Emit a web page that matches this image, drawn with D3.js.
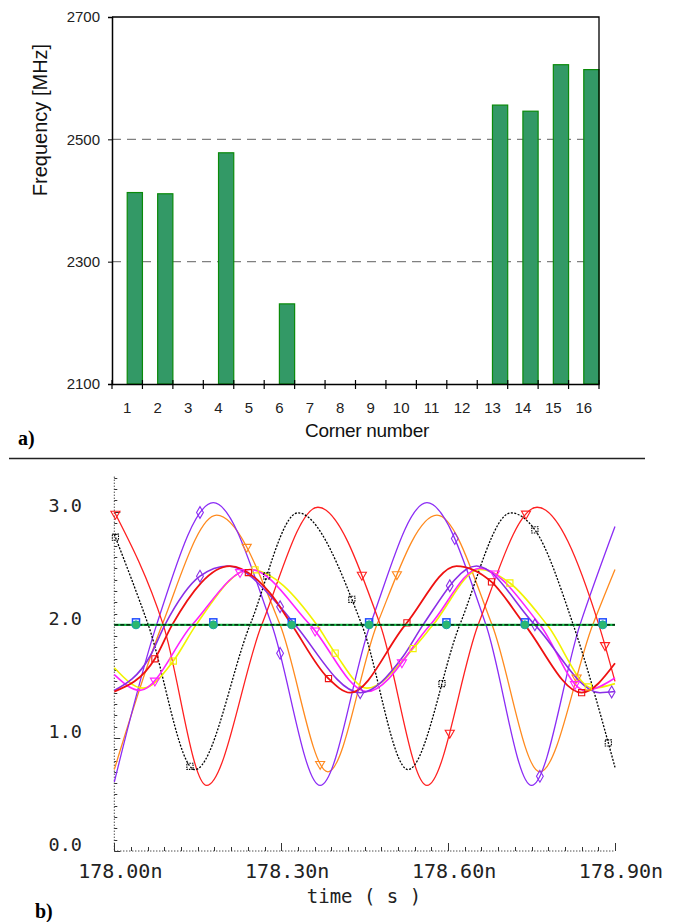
<!DOCTYPE html>
<html>
<head>
<meta charset="utf-8">
<script src="https://cdn.jsdelivr.net/npm/d3@7"></script>
<style>
  body { margin: 0; background: #fff; }
  svg { display: block; }
</style>
</head>
<body>
<div id="chart"></div>
<script>
// ---- a) oscillation frequency per process corner
var corners = ['1', '2', '3', '4', '5', '6', '7', '8', '9', '10', '11', '12', '13', '14', '15', '16'];
var freqMHz = [2413, 2411, null, 2478, null, 2231, null, null, null, null, null, null, 2556, 2546, 2622, 2614];
var freqTicks = [2100, 2300, 2500, 2700];
var freqGrid = [2300, 2500];

// ---- b) transient waveforms, [time ns, volts]
var timeTicks = [178.00, 178.30, 178.60, 178.90];
var voltTicks = [0, 1, 2, 3];

var blackWave = [[178.000, 2.80], [178.061, 2.00], [178.145, 0.72], [178.244, 2.00], [178.330, 2.99],
  [178.445, 2.00], [178.528, 0.72], [178.621, 2.00], [178.713, 2.99], [178.756, 2.84], [178.825, 2.00], [178.900, 0.74]];
var redWave = [[178.000, 3.00], [178.088, 2.00], [178.166, 0.58], [178.265, 2.00], [178.366, 3.04],
  [178.478, 2.00], [178.562, 0.58], [178.654, 2.00], [178.760, 3.04], [178.871, 2.00], [178.900, 1.50]];
var violetWave = [[178.000, 0.61], [178.076, 2.00], [178.178, 3.08], [178.283, 2.00], [178.370, 0.58],
  [178.460, 2.00], [178.562, 3.08], [178.668, 2.00], [178.750, 0.58], [178.837, 2.00], [178.900, 2.87]];
var orangeWave = [[178.000, 0.72], [178.086, 2.00], [178.184, 2.97], [178.298, 2.00], [178.384, 0.70],
  [178.472, 2.00], [178.580, 2.97], [178.679, 2.00], [178.765, 0.70], [178.860, 2.00], [178.900, 2.49]];
var redMidWave = [[178.000, 1.41], [178.073, 1.70], [178.104, 2.00], [178.208, 2.52], [178.280, 2.28],
  [178.319, 2.00], [178.384, 1.53], [178.424, 1.40], [178.523, 2.00], [178.615, 2.52], [178.678, 2.38],
  [178.738, 2.00], [178.840, 1.40], [178.900, 1.66]];
var violetMidWave = [[178.000, 1.42], [178.064, 1.72], [178.091, 2.00], [178.154, 2.43], [178.204, 2.52],
  [178.298, 2.16], [178.325, 2.00], [178.442, 1.40], [178.519, 1.72], [178.555, 2.00], [178.651, 2.52],
  [178.756, 2.00], [178.873, 1.40], [178.900, 1.41]];
var magentaWave = [[178.000, 1.56], [178.046, 1.42], [178.140, 2.00], [178.244, 2.49], [178.352, 2.00],
  [178.454, 1.41], [178.568, 2.00], [178.657, 2.50], [178.765, 2.00], [178.846, 1.42], [178.900, 1.53]];
var yellowWave = [[178.000, 1.62], [178.052, 1.44], [178.106, 1.68], [178.147, 2.00], [178.244, 2.49],
  [178.364, 2.00], [178.397, 1.75], [178.454, 1.44], [178.537, 1.79], [178.573, 2.00], [178.657, 2.49],
  [178.711, 2.37], [178.778, 2.00], [178.860, 1.44], [178.900, 1.48]];
var refLevel = [[178.000, 2.00], [178.900, 2.00]];
var refMarkers = [178.039, 178.178, 178.319, 178.458, 178.597, 178.738, 178.878];

// marker times along each trace (ns)
var blackMarks = [178.002, 178.136, 178.274, 178.427, 178.589, 178.756, 178.888];
var redMarks = [178.002, 178.445, 178.603, 178.740, 178.882];
var violetMarks = [178.154, 178.298, 178.612, 178.765];
var orangeMarks = [178.238, 178.370, 178.508, 178.831];
var redMidMarks = [178.073, 178.241, 178.385, 178.526, 178.678, 178.840];
var yellowMarks = [178.106, 178.253, 178.397, 178.537, 178.711, 178.852];
var magentaMarks = [178.073, 178.226, 178.361, 178.517, 178.684, 178.828];
var violetMidMarks = [178.154, 178.298, 178.442, 178.603, 178.756, 178.894];

var svg = d3.select('#chart')
  .append('svg')
    .attr('width', 680)
    .attr('height', 922);

// ================= a) bar chart =================
var boxA = { left: 112, right: 599, top: 17, bottom: 384 };

var x_bar = d3.scaleBand()
    .domain(corners)
    .range([boxA.left, boxA.right])
    .padding(0);

var y_bar = d3.scaleLinear()
    .domain([2100, 2700])
    .range([boxA.bottom, boxA.top]);

var chartA = svg.append('g')
    .attr('font-family', '"Liberation Sans", Arial, sans-serif');

// dashed grid
chartA.append('g')
  .selectAll('line')
  .data(freqGrid)
  .enter().append('line')
    .attr('x1', boxA.left)
    .attr('x2', boxA.right)
    .attr('y1', function(d) { return y_bar(d); })
    .attr('y2', function(d) { return y_bar(d); })
    .attr('stroke', '#808080')
    .attr('stroke-width', 1.3)
    .attr('stroke-dasharray', '9,6');

// bars sit in the right half of each corner slot
var bw = x_bar.bandwidth();
chartA.append('g')
  .selectAll('rect')
  .data(corners.filter(function(c, i) { return freqMHz[i] != null; }))
  .enter().append('rect')
    .attr('x', function(d) { return x_bar(d) + bw * 0.5; })
    .attr('width', bw * 0.5)
    .attr('y', function(d) { return y_bar(freqMHz[corners.indexOf(d)]); })
    .attr('height', function(d) { return y_bar(2100) - y_bar(freqMHz[corners.indexOf(d)]); })
    .attr('fill', '#339966')
    .attr('stroke', '#0a8a0a')
    .attr('stroke-width', 1.2);

// frame: top + right
chartA.append('path')
    .attr('d', 'M' + boxA.left + ',' + boxA.top + 'H' + boxA.right + 'V' + boxA.bottom)
    .attr('fill', 'none')
    .attr('stroke', '#000')
    .attr('stroke-width', 1.3);

// y axis
var yAxisA = chartA.append('g')
    .attr('transform', 'translate(' + boxA.left + ',0)')
    .call(d3.axisLeft(y_bar).tickValues(freqTicks).tickSize(4).tickPadding(8).tickFormat(d3.format('d')));
yAxisA.select('.domain').attr('stroke-width', 1.5);
yAxisA.selectAll('text')
    .attr('font-size', 15)
    .attr('font-family', '"Liberation Sans", Arial, sans-serif')
    .attr('fill', '#222');

// x axis: labels centred in slots, ticks on slot edges
var xAxisA = chartA.append('g')
    .attr('transform', 'translate(0,' + boxA.bottom + ')')
    .call(d3.axisBottom(x_bar).tickSize(0).tickPadding(18));
xAxisA.select('.domain').attr('stroke-width', 1.7);
xAxisA.selectAll('text')
    .attr('font-size', 15)
    .attr('font-family', '"Liberation Sans", Arial, sans-serif')
    .attr('fill', '#222');

chartA.append('g')
  .selectAll('line')
  .data([''].concat(corners))
  .enter().append('line')
    .attr('x1', function(d, i) { return boxA.left + i * bw; })
    .attr('x2', function(d, i) { return boxA.left + i * bw; })
    .attr('y1', boxA.bottom - 4)
    .attr('y2', boxA.bottom + 5)
    .attr('stroke', '#000')
    .attr('stroke-width', 1.2);

chartA.append('text')
    .attr('x', 367)
    .attr('y', 437)
    .attr('text-anchor', 'middle')
    .attr('font-size', 19)
    .attr('letter-spacing', -0.3)
    .attr('fill', '#111')
    .text('Corner number');

chartA.append('text')
    .attr('transform', 'translate(47,120) rotate(-90)')
    .attr('text-anchor', 'middle')
    .attr('font-size', 20)
    .attr('fill', '#111')
    .text('Frequency [MHz]');

svg.append('text')
    .attr('x', 18)
    .attr('y', 445)
    .attr('font-family', '"Liberation Serif", "Times New Roman", serif')
    .attr('font-weight', 'bold')
    .attr('font-size', 20)
    .text('a)');

// separator
svg.append('line')
    .attr('x1', 9).attr('x2', 645)
    .attr('y1', 458.5).attr('y2', 458.5)
    .attr('stroke', '#222')
    .attr('stroke-width', 1.5);

// ================= b) waveforms =================
var boxB = { left: 114.3, right: 615, top: 476.7, bottom: 851 };

var x_t = d3.scaleLinear()
    .domain([178.0, 178.9])
    .range([boxB.left, boxB.right]);

var y_v = d3.scaleLinear()
    .domain([0, 3.31])
    .range([boxB.bottom, boxB.top]);

var chartB = svg.append('g')
    .attr('font-family', '"DejaVu Sans Mono", monospace');

// dotted axes
chartB.append('line')
    .attr('x1', boxB.left).attr('x2', boxB.left)
    .attr('y1', boxB.top).attr('y2', boxB.bottom)
    .attr('stroke', '#000')
    .attr('stroke-dasharray', '1,2');
chartB.append('line')
    .attr('x1', boxB.left).attr('x2', boxB.right)
    .attr('y1', boxB.bottom).attr('y2', boxB.bottom)
    .attr('stroke', '#000')
    .attr('stroke-dasharray', '1,2');

// y minor / major ticks
chartB.append('g')
  .selectAll('line')
  .data(y_v.ticks(33))
  .enter().append('line')
    .attr('x1', boxB.left)
    .attr('x2', function(d) { return boxB.left + (Math.abs(d - Math.round(d)) < 1e-6 ? 6 : 3); })
    .attr('y1', function(d) { return Math.round(y_v(d)) + 0.5; })
    .attr('y2', function(d) { return Math.round(y_v(d)) + 0.5; })
    .attr('stroke', '#333')
    .attr('stroke-width', 1);

// x minor / major ticks (every 0.03 ns)
chartB.append('g')
  .selectAll('line')
  .data(d3.range(0, 31))
  .enter().append('line')
    .attr('x1', function(i) { return Math.round(x_t(178 + i * 0.03)) + 0.5; })
    .attr('x2', function(i) { return Math.round(x_t(178 + i * 0.03)) + 0.5; })
    .attr('y1', boxB.bottom)
    .attr('y2', function(i) { return boxB.bottom - (i % 10 === 0 ? 8 : 4); })
    .attr('stroke', '#333')
    .attr('stroke-width', 1);

chartB.append('g')
  .selectAll('text')
  .data(voltTicks)
  .enter().append('text')
    .attr('x', 82)
    .attr('y', function(d) { return y_v(d); })
    .attr('text-anchor', 'end')
    .attr('font-size', 18.5)
    .attr('fill', '#222')
    .text(d3.format('.1f'));

chartB.append('g')
  .selectAll('text')
  .data(timeTicks)
  .enter().append('text')
    .attr('x', function(d) { return x_t(d); })
    .attr('y', 878)
    .attr('dx', '0.3em')
    .attr('text-anchor', 'middle')
    .attr('font-size', 20)
    .attr('fill', '#222')
    .text(function(d) { return d3.format('.2f')(d) + 'n'; });

chartB.append('text')
    .attr('x', 364)
    .attr('y', 903)
    .attr('text-anchor', 'middle')
    .attr('font-size', 19)
    .attr('fill', '#222')
    .text('time ( s )');

svg.append('text')
    .attr('x', 35)
    .attr('y', 918)
    .attr('font-family', '"Liberation Serif", "Times New Roman", serif')
    .attr('font-weight', 'bold')
    .attr('font-size', 20)
    .text('b)');

var wave = d3.line()
    .x(function(d) { return x_t(d[0]); })
    .y(function(d) { return y_v(d[1]); })
    .curve(d3.curveMonotoneX);

var traces = [
  { data: orangeWave, marks: orangeMarks, color: '#ff8a1e', width: 1.3, dash: null, sym: 'tri' },
  { data: violetWave, marks: violetMarks, color: '#8b2cf5', width: 1.3, dash: null, sym: 'dia' },
  { data: redWave, marks: redMarks, color: '#ff2020', width: 1.3, dash: null, sym: 'tri' },
  { data: blackWave, marks: blackMarks, color: '#000000', width: 1.3, dash: '2,1.5', sym: 'sq' },
  { data: yellowWave, marks: yellowMarks, color: '#f2f200', width: 1.6, dash: null, sym: 'sq' },
  { data: magentaWave, marks: magentaMarks, color: '#ff22ff', width: 1.6, dash: null, sym: 'tri' },
  { data: violetMidWave, marks: violetMidMarks, color: '#8a2ee6', width: 1.6, dash: null, sym: 'dia' },
  { data: redMidWave, marks: redMidMarks, color: '#ee1111', width: 1.8, dash: null, sym: 'sq' }
];

var tracePaths = chartB.append('g')
  .selectAll('path')
  .data(traces)
  .enter().append('path')
    .attr('d', function(d) { return wave(d.data); })
    .attr('fill', 'none')
    .attr('stroke', function(d) { return d.color; })
    .attr('stroke-width', function(d) { return d.width; })
    .attr('stroke-dasharray', function(d) { return d.dash; });

// find the point of a (x-monotone) path at a given x
function pointAtX(node, x) {
  var lo = 0, hi = node.getTotalLength(), p;
  for (var k = 0; k < 30; k++) {
    var mid = (lo + hi) / 2;
    p = node.getPointAtLength(mid);
    if (p.x < x) lo = mid; else hi = mid;
  }
  return p;
}

var symbols = {
  sq: d3.symbol().type(d3.symbolSquare).size(38)(),
  dia: d3.symbol().type(d3.symbolDiamond).size(40)(),
  tri: d3.symbol().type(d3.symbolTriangle).size(36)()
};

tracePaths.each(function(tr) {
  var node = this;
  chartB.append('g')
    .selectAll('path')
    .data(tr.marks)
    .enter().append('path')
      .attr('d', symbols[tr.sym])
      .attr('transform', function(t) {
        var p = pointAtX(node, x_t(t));
        return 'translate(' + p.x + ',' + p.y + ')' + (tr.sym === 'tri' ? ' rotate(180)' : '');
      })
      .attr('fill', 'none')
      .attr('stroke', tr.color)
      .attr('stroke-width', 1.1)
      .attr('stroke-dasharray', tr.sym === 'sq' && tr.color === '#000000' ? '1.5,1' : null);
});

// reference level: green line with black dashes on top
var flat = d3.line().x(function(d) { return x_t(d[0]); }).y(function(d) { return y_v(d[1]); });
chartB.append('path')
    .attr('d', flat(refLevel))
    .attr('stroke', '#18c04a')
    .attr('stroke-width', 2.4)
    .attr('fill', 'none');
chartB.append('path')
    .attr('d', flat(refLevel))
    .attr('stroke', '#000')
    .attr('stroke-width', 1.2)
    .attr('stroke-dasharray', '4,2')
    .attr('fill', 'none');

var marks = chartB.append('g')
  .selectAll('g')
  .data(refMarkers)
  .enter().append('g')
    .attr('transform', function(d) { return 'translate(' + x_t(d) + ',' + y_v(2) + ')'; });
marks.append('rect')
    .attr('x', -3.5).attr('y', -6)
    .attr('width', 7).attr('height', 7)
    .attr('fill', 'none')
    .attr('stroke', '#1f4dff')
    .attr('stroke-width', 1.5);
marks.append('circle')
    .attr('r', 4)
    .attr('fill', '#2cb86e')
    .attr('stroke', '#17a3a3')
    .attr('stroke-width', 1);
</script>
</body>
</html>
